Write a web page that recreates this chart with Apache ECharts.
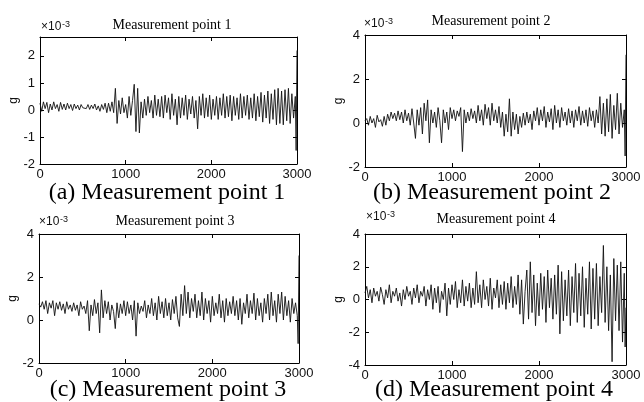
<!DOCTYPE html>
<html><head><meta charset="utf-8">
<script src="https://cdn.jsdelivr.net/npm/echarts@6/dist/echarts.min.js"></script>
<style>html,body{margin:0;padding:0;background:#fff}#c{width:644px;height:402px}</style>
</head><body><div id="c"></div>
<script>
// sample indices (step 20, plus the final two samples)
const sampleIdx = [];
for (let i = 0; i < 150; i++) sampleIdx.push(i * 20);
sampleIdx.push(2990, 3000);

const xTicks = [0, 1000, 2000, 3000];
const titles = ['Measurement point 1','Measurement point 2','Measurement point 3','Measurement point 4'];
const captions = ['(a) Measurement point 1','(b) Measurement point 2','(c) Measurement point 3','(d) Measurement point 4'];
const yRanges = [[-2, 2.7, 1], [-2, 4, 2], [-2, 4, 2], [-4, 4, 2]];

// values in units of 1e-3 g
const p1 = [
 0.25,-0.05,0.3,0.05,0.28,-0.1,0.22,0.0,0.3,0.05,
 0.2,-0.05,0.28,0.02,0.22,0.0,0.25,0.05,0.2,-0.02,
 0.22,0.05,0.18,0.0,0.2,0.08,0.15,0.05,0.2,0.02,
 0.18,0.05,0.22,0.0,0.15,-0.05,0.2,0.02,0.25,-0.1,
 0.25,-0.05,0.3,-0.1,0.8,-0.5,0.35,-0.15,0.45,-0.1,
 0.2,-0.3,0.5,-0.2,0.35,0.95,-0.8,0.8,-0.85,0.3,
 -0.3,0.4,-0.2,0.5,-0.1,0.35,-0.3,0.55,-0.2,0.4,
 -0.25,0.5,-0.3,0.55,-0.1,0.45,-0.35,0.6,-0.2,0.4,
 -0.55,0.5,-0.3,0.45,-0.2,0.55,-0.35,0.4,-0.15,0.5,
 -0.3,0.35,-0.7,0.5,-0.2,0.6,-0.3,0.45,-0.25,0.55,
 -0.35,0.4,-0.2,0.5,-0.35,0.45,-0.2,0.6,-0.3,0.5,
 -0.25,0.55,-0.4,0.5,-0.2,0.45,-0.35,0.6,-0.3,0.5,
 -0.2,0.55,-0.35,0.45,-0.3,0.6,-0.4,0.5,-0.25,0.65,
 -0.45,0.55,-0.3,0.7,-0.5,0.6,-0.35,0.75,-0.55,0.8,
 -0.5,0.7,-0.55,0.75,-0.4,0.8,-0.5,0.6,-0.3,0.5,
 -1.5,2.2
];
const p2 = [
 0.1,0.2,-0.1,0.3,0.0,0.2,-0.2,0.35,0.05,0.15,
 -0.15,0.3,-0.1,0.4,0.1,0.5,0.2,0.45,0.1,0.55,
 0.15,0.5,0.0,0.6,0.1,0.45,-0.1,0.65,0.0,-0.7,
 0.6,-0.1,0.7,-0.5,0.9,0.1,1.05,-0.9,0.6,0.0,
 0.5,-0.2,0.7,0.1,-0.9,0.6,0.0,0.5,-0.3,0.7,
 0.2,0.6,0.1,0.55,0.3,0.7,-1.3,0.6,0.0,0.5,
 0.1,0.65,0.2,0.55,0.0,0.8,0.1,0.6,-0.1,0.85,
 0.2,0.7,-0.1,0.9,0.1,0.6,0.0,0.75,-0.2,0.5,
 -0.6,0.4,-0.4,1.1,-0.6,0.5,-0.3,0.4,-0.5,0.3,
 -0.2,0.45,-0.1,0.5,0.0,0.4,-0.3,0.55,0.1,0.7,
 -0.1,0.6,0.1,0.75,-0.2,0.5,0.05,0.65,-0.3,0.8,
 0.0,0.6,-0.2,0.7,0.1,0.5,-0.1,0.65,0.0,0.55,
 -0.2,0.6,0.1,0.75,-0.1,0.55,0.0,0.6,-0.15,0.7,
 0.1,0.55,-0.2,0.6,0.0,1.2,-0.5,0.9,-0.6,1.1,
 -0.4,1.3,-0.7,0.8,-0.3,1.35,-0.5,0.9,-0.2,0.6,
 -1.5,3.1
];
const p3 = [
 0.75,0.6,0.85,0.5,0.9,0.3,0.8,0.55,0.9,0.2,
 0.8,0.5,0.85,0.45,0.75,0.3,0.85,0.5,0.7,0.4,
 0.8,0.45,0.7,0.2,0.85,0.5,0.65,0.3,0.9,-0.5,
 0.7,0.2,0.95,0.3,0.8,-0.6,1.4,0.1,0.9,0.3,
 0.85,0.0,0.7,0.4,-0.4,0.8,0.1,0.75,0.3,0.9,
 0.2,0.85,0.3,0.7,0.0,0.9,-0.75,0.8,0.3,0.65,
 0.4,0.9,0.1,0.7,0.3,1.0,0.2,0.8,0.0,1.1,
 0.3,0.85,0.1,1.0,0.2,0.8,0.0,0.95,0.3,1.1,
 0.1,-0.3,1.2,0.2,1.6,0.3,1.3,0.1,1.0,0.4,
 1.2,0.1,0.9,0.2,1.3,0.0,1.0,0.3,0.9,-0.1,
 1.1,0.2,0.8,0.3,1.2,0.1,0.9,-0.1,1.0,0.2,
 0.85,0.3,1.1,0.2,0.9,0.0,1.0,-0.2,0.8,0.3,
 1.2,0.1,0.9,0.3,1.25,0.0,1.0,0.2,0.8,-0.1,
 1.0,0.3,1.2,0.0,1.3,0.2,0.9,-0.1,1.2,0.3,
 1.3,0.0,1.1,0.2,0.9,-0.1,1.0,0.3,0.8,0.2,
 -1.1,3.0
];
const p4 = [
 0.4,0.8,0.1,0.6,-0.2,0.7,0.2,0.5,-0.1,0.75,
 0.3,-0.3,0.6,0.1,0.9,-0.2,0.5,0.2,0.7,-0.1,
 0.4,-0.4,0.6,0.0,0.8,0.2,0.5,-0.3,0.7,0.1,
 0.9,-0.2,0.5,0.2,0.8,-0.4,0.6,0.0,0.9,-0.6,
 0.7,-0.2,0.8,-0.8,0.5,0.0,1.0,-1.0,0.7,-0.3,
 0.9,0.0,1.1,-0.5,0.6,-0.2,1.2,-0.4,0.8,-0.1,
 1.0,-0.5,0.7,-0.3,1.7,-0.2,0.9,-0.5,1.2,0.0,
 0.8,-0.4,1.3,-0.6,0.7,0.1,1.2,-0.5,0.9,-0.3,
 1.1,-0.6,1.0,-0.2,1.4,-0.5,0.8,-0.3,1.5,-0.9,
 1.2,-1.5,0.5,1.8,-1.2,2.3,-0.8,1.5,-1.6,1.0,
 -1.0,1.6,-0.6,1.4,-1.4,1.8,-0.5,1.3,-1.2,1.5,
 -0.9,2.1,-2.1,1.7,-1.3,1.2,-1.0,1.8,-1.6,1.4,
 -0.8,2.2,-1.4,1.6,-1.0,2.0,-1.7,1.3,-0.9,2.3,
 -1.8,1.9,-1.2,2.2,-1.6,1.4,-0.8,3.3,-1.4,2.0,
 -1.9,1.5,-3.8,2.5,-1.3,2.1,-1.9,2.3,-2.6,1.6,
 -2.9,-0.5
];
const seriesValues = [p1, p2, p3, p4];

const grids = [
 {left: 40, top: 37, width: 257, height: 127},
 {left: 365, top: 35, width: 261, height: 132},
 {left: 39, top: 234, width: 260, height: 129},
 {left: 365, top: 234, width: 261, height: 131}
];
const titlePos = [[172, 25], [491, 21], [175, 221], [496, 219]];
const captionPos = [[167, 193], [492, 193], [168, 390], [494, 390]];
const expPos = [[41, 33], [364, 30], [39, 228], [366, 223]];
const nameGaps = [12, 18, 10, 20];

const axisLine = {show: true, onZero: false, lineStyle: {color: '#000', width: 1}};
const tickStyle = {show: true, inside: true, length: 4, lineStyle: {color: '#000', width: 1}};
const labelFont = {fontFamily: 'Liberation Sans', fontSize: 13, color: '#111'};

const xAxes = [], yAxes = [], series = [], graphic = [];
grids.forEach((g, i) => {
  const [ymin, ymax, yint] = yRanges[i];
  xAxes.push({gridIndex: i, type: 'value', min: 0, max: 3000, interval: 1000, position: 'bottom',
    axisLine, axisTick: tickStyle, splitLine: {show: false},
    axisLabel: Object.assign({margin: 4, formatter: v => String(v)}, labelFont)});
  xAxes.push({gridIndex: i, type: 'value', min: 0, max: 3000, interval: 1000, position: 'top',
    axisLine, axisTick: tickStyle, splitLine: {show: false}, axisLabel: {show: false}});
  yAxes.push({gridIndex: i, type: 'value', min: ymin, max: ymax, interval: yint, position: 'left',
    name: 'g', nameLocation: 'middle', nameGap: nameGaps[i], nameRotate: 90,
    nameTextStyle: {fontFamily: 'Liberation Sans', fontSize: 12, color: '#111'},
    axisLine, axisTick: tickStyle, splitLine: {show: false},
    axisLabel: Object.assign({margin: 5, formatter: v => (Math.abs(v - Math.round(v)) < 1e-9 ? String(Math.round(v)) : '')}, labelFont)});
  yAxes.push({gridIndex: i, type: 'value', min: ymin, max: ymax, interval: yint, position: 'right',
    axisLine, axisTick: tickStyle, splitLine: {show: false}, axisLabel: {show: false}});
  series.push({type: 'line', xAxisIndex: 2 * i, yAxisIndex: 2 * i, showSymbol: false, symbol: 'none',
    animation: false, clip: true,
    lineStyle: {color: '#111', width: 0.9},
    data: sampleIdx.map((x, k) => [x, seriesValues[i][k]])});
  graphic.push({type: 'text', x: titlePos[i][0], y: titlePos[i][1],
    style: {text: titles[i], font: '14px "Liberation Serif"', fill: '#000', textAlign: 'center', textVerticalAlign: 'middle'}});
  graphic.push({type: 'text', x: captionPos[i][0], y: captionPos[i][1],
    style: {text: captions[i], font: '24px "Liberation Serif"', fill: '#000', textAlign: 'center', textVerticalAlign: 'middle'}});
  graphic.push({type: 'text', x: expPos[i][0], y: expPos[i][1],
    style: {text: '×10', font: '12px "Liberation Sans"', fill: '#111', textAlign: 'left', textVerticalAlign: 'bottom'}});
  graphic.push({type: 'text', x: expPos[i][0] + 21, y: expPos[i][1] - 4,
    style: {text: '-3', font: '9px "Liberation Sans"', fill: '#111', textAlign: 'left', textVerticalAlign: 'bottom'}});
});

const chart = echarts.init(document.getElementById('c'), null, {renderer: 'canvas'});
chart.setOption({
  backgroundColor: '#fff',
  animation: false,
  grid: grids,
  xAxis: xAxes,
  yAxis: yAxes,
  series,
  graphic
});
</script></body></html>
